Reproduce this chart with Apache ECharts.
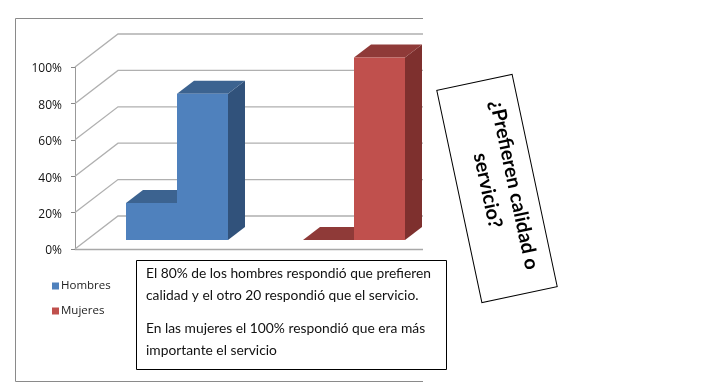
<!DOCTYPE html>
<html>
<head>
<meta charset="utf-8">
<title>Prefieren calidad o servicio</title>
<script src="https://cdn.jsdelivr.net/npm/echarts@6/dist/echarts.min.js"></script>
<style>
    html, body { margin: 0; padding: 0; background: #fff; }
    #chart { width: 701px; height: 383px; }
</style>
</head>
<body>
<div id="chart"></div>
<script>
var categories = ['', ''];
var yTicks = [0, 20, 40, 60, 80, 100];
// each group has two bars side by side
var hombres = [20, 80];
var mujeres = [0, 100];
var seriesNames = ['Hombres', 'Mujeres'];
var notePara1 = 'El 80% de los hombres respondió que prefieren\ncalidad y el otro 20 respondió que el servicio.';
var notePara2 = 'En las mujeres el 100% respondió que era más\nimportante el servicio';
var boxTitle = '¿Prefieren calidad o\nservicio?';

var wallX = 43, wallY = 33;   // depth of the 3d floor
var barW = 51, barX = 17, barY = 13;

function renderWall(params, api) {
    var p = api.coord([0, api.value(0)]);
    var x0 = params.coordSys.x;
    var x1 = x0 + params.coordSys.width;
    return {
        type: 'polyline',
        shape: { points: [[x0, p[1]], [x0 + wallX, p[1] - wallY], [x1, p[1] - wallY]] },
        style: { fill: 'none', stroke: '#b0b0b0', lineWidth: 1.3 }
    };
}

function barRenderer(front, top, side, groupIdx, shift) {
    return function (params, api) {
        var sub = api.value(1);
        var base = api.coord([groupIdx, 0]);
        var head = api.coord([groupIdx, api.value(2)]);
        var l = base[0] + shift + (sub - 1) * barW;
        var r = l + barW;
        var b = base[1] - 9;
        var t = api.value(2) === 0 ? b : head[1] - 9.6;
        return {
            type: 'group',
            children: [
                { type: 'polygon', shape: { points: [[r, t], [r + barX, t - barY], [r + barX, b - barY], [r, b]] }, style: { fill: side } },
                { type: 'polygon', shape: { points: [[l, t], [l + barX, t - barY], [r + barX, t - barY], [r, t]] }, style: { fill: top } },
                { type: 'rect', shape: { x: l, y: t, width: barW, height: b - t }, style: { fill: front } }
            ]
        };
    };
}

function toBarData(values) {
    var out = [];
    for (var i = 0; i < values.length; i++) {
        out.push([i, i, values[i]]);
    }
    return out;
}

var chart = echarts.init(document.getElementById('chart'), null, { renderer: 'canvas' });

var option = {
    animation: false,
    backgroundColor: '#fff',
    textStyle: { fontFamily: 'Open Sans' },
    grid: { left: 75, top: 67, width: 352, height: 182 },
    legend: {
        data: seriesNames,
        orient: 'vertical',
        left: 52,
        top: 280,
        padding: 0,
        itemWidth: 7,
        itemHeight: 7,
        itemGap: 13,
        icon: 'rect',
        selectedMode: false,
        textStyle: { fontFamily: 'Open Sans', fontSize: 11.5, color: '#222', padding: [0, 0, 0, -3] }
    },
    xAxis: {
        type: 'category',
        data: categories,
        axisLine: { lineStyle: { color: '#a8a8a8', width: 1.3 } },
        axisTick: { alignWithLabel: false, length: 4, lineStyle: { color: '#888' } },
        axisLabel: { show: false }
    },
    yAxis: {
        type: 'value',
        min: 0,
        max: 100,
        interval: 20,
        axisLine: { show: true, lineStyle: { color: '#999' } },
        axisTick: { show: true, length: 4, lineStyle: { color: '#888' } },
        splitLine: { show: false },
        axisLabel: { formatter: '{value}%', fontFamily: 'Open Sans', fontSize: 12, color: '#111', margin: 13, verticalAlign: 'top', lineHeight: 4 }
    },
    series: [
        {
            type: 'custom',
            name: 'wall',
            silent: true,
            clip: false,
            z: 1,
            encode: { y: 0 },
            data: yTicks.map(function (v) { return [v]; }),
            renderItem: renderWall
        },
        {
            type: 'custom',
            name: seriesNames[0],
            clip: false,
            z: 3,
            itemStyle: { color: '#4f81bd' },
            encode: { x: 0, y: 2 },
            data: toBarData(hombres),
            renderItem: barRenderer('#4f81bd', '#3c6390', '#31527b', 0, 14)
        },
        {
            type: 'custom',
            name: seriesNames[1],
            clip: false,
            z: 3,
            itemStyle: { color: '#c0504d' },
            encode: { x: 0, y: 2 },
            data: toBarData(mujeres),
            renderItem: barRenderer('#c0504d', '#8f3a38', '#7e302e', 1, 15)
        }
    ],
    graphic: [
        // the picture is cut off at the right of the chart area
        { type: 'rect', z: 50, silent: true, shape: { x: 423, y: 19, width: 8, height: 240 }, style: { fill: '#fff' } },
        { type: 'polyline', z: 51, silent: true, shape: { points: [[423, 18.5], [15.5, 18.5], [15.5, 381.5], [423, 381.5]] }, style: { fill: 'none', stroke: '#8a8a8a', lineWidth: 1 } },
        { type: 'rect', z: 52, silent: true, shape: { x: 136.5, y: 260.5, width: 310, height: 109 }, style: { fill: '#fff', stroke: '#000', lineWidth: 1 } },
        { type: 'text', z: 53, silent: true, left: 146, top: 263, style: { text: notePara1, fontFamily: 'Lato', fontSize: 13.8, lineHeight: 21.5, fill: '#111' } },
        { type: 'text', z: 53, silent: true, left: 146, top: 318, style: { text: notePara2, fontFamily: 'Lato', fontSize: 13.8, lineHeight: 21.5, fill: '#111' } },
        {
            type: 'group',
            z: 52,
            x: 497,
            y: 188.5,
            rotation: -78 * Math.PI / 180,
            silent: true,
            children: [
                { type: 'rect', z: 52, shape: { x: -108.5, y: -38.5, width: 217, height: 77 }, style: { fill: '#fff', stroke: '#000', lineWidth: 1 } },
                { type: 'text', z: 53, x: 0, y: -4, style: { text: boxTitle, fontFamily: 'Lato', fontWeight: 'bold', fontSize: 19.8, lineHeight: 27, align: 'center', verticalAlign: 'middle', fill: '#000' } }
            ]
        }
    ]
};

chart.setOption(option);
</script>
</body>
</html>
